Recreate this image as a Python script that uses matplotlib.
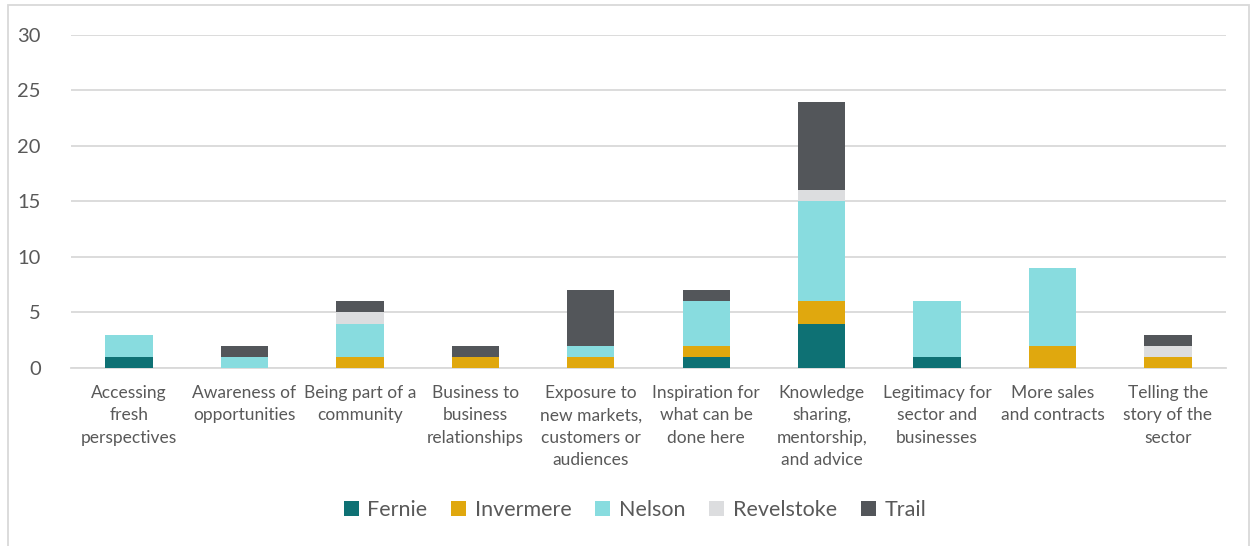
import numpy as np
import matplotlib
matplotlib.use("Agg")
import matplotlib.pyplot as plt
from matplotlib.patches import Rectangle

# data
categories = [
    "Accessing\nfresh\nperspectives",
    "Awareness of\nopportunities",
    "Being part of a\ncommunity",
    "Business to\nbusiness\nrelationships",
    "Exposure to\nnew markets,\ncustomers or\naudiences",
    "Inspiration for\nwhat can be\ndone here",
    "Knowledge\nsharing,\nmentorship,\nand advice",
    "Legitimacy for\nsector and\nbusinesses",
    "More sales\nand contracts",
    "Telling the\nstory of the\nsector",
]
fernie = [1, 0, 0, 0, 0, 1, 4, 1, 0, 0]
invermere = [0, 0, 1, 1, 1, 1, 2, 0, 2, 1]
nelson = [2, 1, 3, 0, 1, 4, 9, 5, 7, 0]
revelstoke = [0, 0, 1, 0, 0, 0, 1, 0, 0, 1]
trail = [0, 1, 1, 1, 5, 1, 8, 0, 0, 1]

series = ["Fernie", "Invermere", "Nelson", "Revelstoke", "Trail"]
colors = ["#0e7174", "#e0a80e", "#88dcdf", "#dcdddf", "#53565a"]

plt.rcParams['font.family'] = ['Lato', 'DejaVu Sans']
text_col = "#595959"

fig = plt.figure(figsize=(12.52, 5.46), dpi=100)
ax = fig.add_axes([0.057, 0.326, 0.922, 0.61])

x = np.arange(len(categories))
bottom = np.zeros(len(categories))
for name, vals, col in zip(series, [fernie, invermere, nelson, revelstoke, trail], colors):
    ax.bar(x, vals, 0.41, bottom=bottom, color=col, label=name, zorder=3)
    bottom += np.array(vals)

ax.set_xlim(-0.5, len(categories) - 0.5)
ax.set_ylim(0, 30)
ax.set_yticks(range(0, 31, 5))
ax.grid(axis='y', color="#d9d9d9", linewidth=1.3, zorder=0)
for s in ["top", "right", "left"]:
    ax.spines[s].set_visible(False)
ax.spines["bottom"].set_color("#d9d9d9")
ax.spines["bottom"].set_linewidth(1.3)
ax.tick_params(axis='y', length=0, pad=22, labelsize=14.5, labelcolor=text_col)
ax.tick_params(axis='x', length=0, pad=12, labelsize=12.5, labelcolor=text_col)
ax.set_xticks(x)
ax.set_xticklabels(categories, linespacing=1.5, va='top')

leg = fig.legend(loc='center', bbox_to_anchor=(0.507, 0.066), ncol=5, frameon=False,
                 fontsize=15.5, handlelength=0.7, handleheight=0.7, handletextpad=0.4,
                 columnspacing=1.1)
for t in leg.get_texts():
    t.set_color(text_col)

fig.patches.append(Rectangle((0.006, -0.01), 0.992, 1.0, transform=fig.transFigure,
                             fill=False, edgecolor="#d9d9d9", linewidth=1.3))

fig.savefig("out.png", dpi=100)
